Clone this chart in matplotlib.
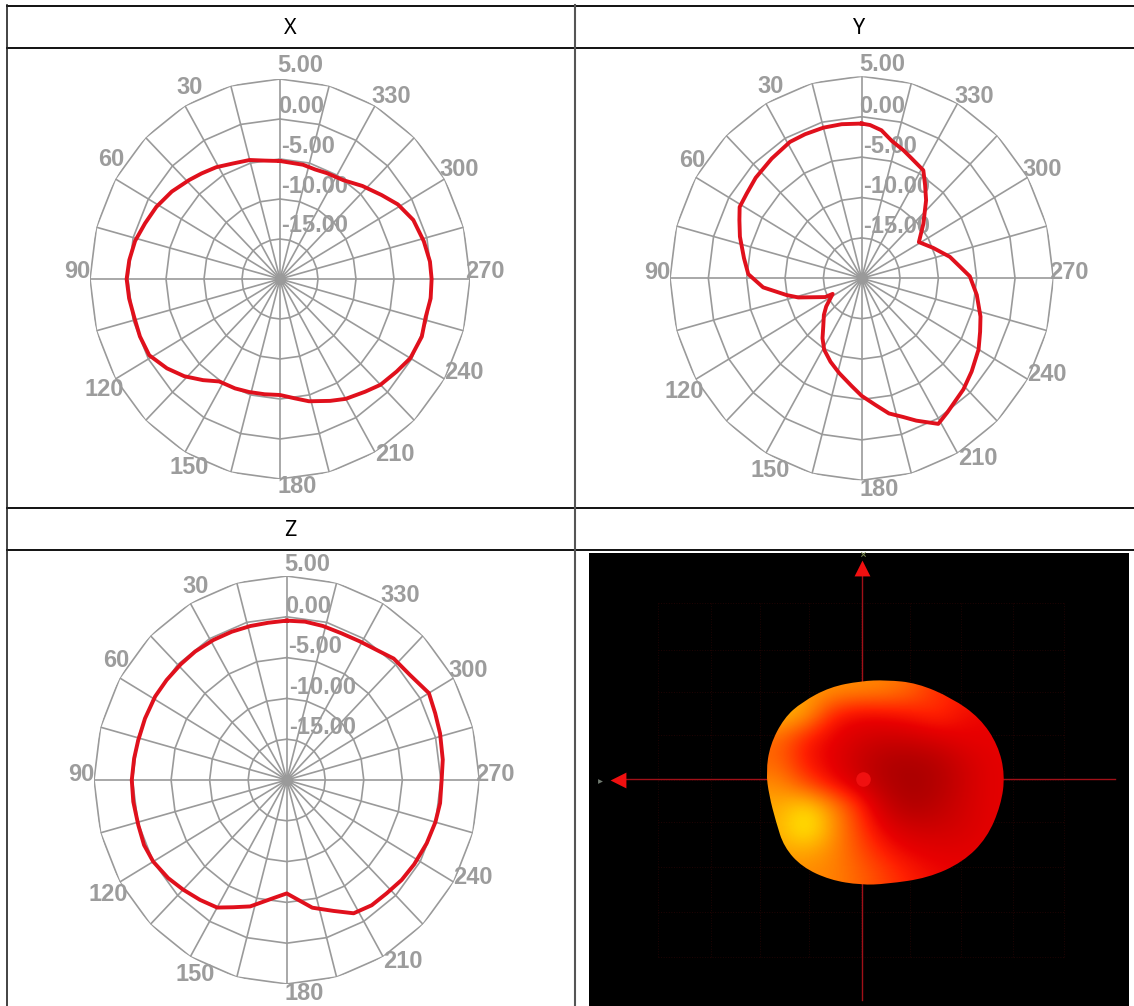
import numpy as np
import matplotlib
matplotlib.use('Agg')
import matplotlib.pyplot as plt
from matplotlib.colors import LinearSegmentedColormap
from matplotlib.patches import PathPatch
from matplotlib.path import Path

W, H = 1134, 1006

# radiation patterns: angle in degrees, gain in dB
x_angle = [0, 7.6, 15, 23, 31, 38, 44, 52.5, 61, 68.6, 76, 83.2, 90, 97, 104, 111.3, 119, 126.9, 134, 141.3, 148, 156.6, 164, 172, 180, 187.5,
           194, 203.4, 210, 218.5, 225, 233, 240, 248.9, 256, 263, 270, 276.3, 284, 292.8, 301, 308.1, 317, 326, 335, 341.4, 348, 360]
x_gain = [-5.25, -5.07, -4.6, -4.3, -3.7, -3.25, -2.8, -2.05, -1.4, -0.93, -0.35, -0.03, 0.18, 0, -0.23, -0.22, -0.33, -1.4, -2.5, -3.8, -4.9, -5.1, -5.3, -5.45, -5.5, -4.95,
          -4.25, -3.4, -2.7, -2, -1.3, -0.78, -0.2, 0, -0.25, -0.03, -0.05, -0.15, -0.5, -0.97, -1.9, -3, -4.1, -5.1, -5.4, -5.55, -5.4, -5.25]

y_angle = [0, 7.8, 15, 22.5, 29, 38.4, 48, 55, 61, 65.7, 72, 80.8, 88, 95, 102, 106, 116, 117, 127, 132.6, 140, 145.4, 151, 158.5, 166, 174.4, 180, 186.4,
           192, 197.5, 202, 209, 214, 224, 231.2, 240, 246.8, 253, 262.2, 271, 276.4, 283, 292, 301, 310, 319, 324.4, 329, 336.3, 341, 347, 352, 356.7, 360]
y_gain = [-0.85, -0.75, -0.7, -0.7, -0.7, -1.1, -1.4, -1.7, -1.8, -2.5, -3.3, -4.45, -5.2, -7.1, -10, -11.4, -14.7, -15.75, -14.2, -13.3, -12.2, -11, -9.9, -8.9, -7.9, -6.6, -5.45, -4.25,
          -2.9, -2, -1, 0.6, 0, -0.9, -1.6, -2.4, -3.2, -3.8, -4.85, -5.9, -7.1, -8.2, -9.95, -11.3, -9.5, -7.2, -5.8, -4.4, -3.8, -3.25, -2.55, -1.5, -1, -0.85]

z_angle = [0, 7, 14, 21.4, 29, 37, 44, 51.8, 59, 67.7, 76, 82.4, 90, 97.6, 106, 113.3, 120, 128, 135, 142.6, 150, 156, 163, 173, 180, 186.6,
           192, 200.7, 208, 215.7, 223, 230.6, 238, 246.9, 255, 261.9, 270, 277, 286, 293, 300, 308.8, 317, 323.8, 331, 338.4, 346, 353, 360]
z_gain = [-0.47, -0.58, -0.55, -0.48, -0.38, -0.28, -0.25, -0.18, -0.1, -0.13, -0.13, -0.03, 0.1, 0.08, 0.03, 0.15, 0, -0.48, -1, -1.5, -1.95, -2.93, -3.8, -5.4, -6.1, -5.1,
          -4, -2.85, -1.5, -1.1, -1, -0.7, -0.5, -0.25, -0.03, 0.1, 0.1, 0.4, 0.7, 0.93, 1.3, 0.53, 0.35, -0.25, -0.55, -0.67, -0.55, -0.45, -0.47]

ring_values = [5, 0, -5, -10, -15]
ring_labels = ['5.00', '0.00', '-5.00', '-10.00', '-15.00']
angle_labels = [30, 60, 90, 120, 150, 180, 210, 240, 270, 300, 330]
panel_titles = ['X', 'Y', 'Z']

# label positions relative to the plot radius
ring_label_x = [0.109, 0.109, 0.149, 0.184, 0.184]
ring_label_y = [1.067, 0.862, 0.662, 0.462, 0.265]
angle_label_x = [-0.474, -0.886, -1.067, -0.926, -0.477, 0.091, 0.605, 0.968, 1.079, 0.942, 0.588]
angle_label_y = [0.958, 0.595, 0.037, -0.552, -0.942, -1.038, -0.88, -0.468, 0.037, 0.548, 0.912]

# brightness of the 3D lobe on a coarse grid, 0 dark red .. 1 yellow
lobe_heat = [
    [0.72, 0.75, 0.72, 0.70, 0.68, 0.60, 0.45, 0.40, 0.40],
    [0.85, 0.78, 0.42, 0.33, 0.35, 0.40, 0.46, 0.35, 0.30],
    [0.62, 0.42, 0.30, 0.22, 0.18, 0.20, 0.25, 0.30, 0.30],
    [0.60, 0.38, 0.28, 0.15, 0.05, 0.03, 0.08, 0.20, 0.28],
    [0.70, 0.52, 0.34, 0.20, 0.05, 0.00, 0.05, 0.18, 0.28],
    [0.78, 0.90, 0.72, 0.45, 0.15, 0.03, 0.10, 0.20, 0.28],
    [0.80, 1.00, 0.75, 0.50, 0.28, 0.18, 0.18, 0.22, 0.28],
    [0.76, 0.78, 0.70, 0.55, 0.40, 0.30, 0.27, 0.27, 0.30],
    [0.70, 0.70, 0.68, 0.60, 0.50, 0.40, 0.33, 0.30, 0.30],
]
lobe_x = [886, 917, 952, 980, 998, 1005, 1001, 987, 963, 928, 886, 861, 830, 802, 784, 776, 769, 766, 770, 784, 802, 830, 861]
lobe_y = [680, 683, 698, 718, 745, 775, 805, 838, 862, 878, 884, 885, 880, 867, 847, 822, 795, 772, 745, 718, 702, 687, 681]
dot_grid_x = [658, 711, 760, 809, 861, 910, 961, 1013, 1064]
dot_grid_y = [603, 650, 692, 735, 780, 822, 867, 912, 957]

GRID = '#9a9a9a'
LABEL = '#9c9c9c'
CURVE = '#e0101c'

plt.rcParams['font.family'] = ['Liberation Sans', 'DejaVu Sans']

fig = plt.figure(figsize=(W / 100, H / 100), dpi=100, facecolor='white')

# whole figure axes in pixel units for the table and the 3D picture
bg = fig.add_axes([0, 0, 1, 1])
bg.set_xlim(0, W)
bg.set_ylim(H, 0)
bg.axis('off')

for yy in [5.5, 48, 507.5, 550]:
    bg.plot([6, W], [yy, yy], color='#111111', lw=1.4, solid_capstyle='butt')
bg.plot([6.5, 6.5], [5, H], color='#222222', lw=1.2)
bg.plot([574.5, 574.5], [5, H], color='#555555', lw=1.5)

for title, tx, ty in zip(panel_titles, [290, 859, 290], [28, 28, 530]):
    bg.text(tx, ty, title, fontsize=15.5, family=['Noto Sans', 'DejaVu Sans'], ha='center', va='center', color='black')

# 3D panel
bg.fill_between([589, 1129], 553, H, color='black', lw=0, zorder=1)
for gx in dot_grid_x:
    bg.plot([gx, gx], [dot_grid_y[0], dot_grid_y[-1]], color='#200404', lw=0.7, ls=':', zorder=2)
for gy in dot_grid_y:
    bg.plot([dot_grid_x[0], dot_grid_x[-1]], [gy, gy], color='#200404', lw=0.7, ls=':', zorder=2)
bg.plot([862, 862], [570, 1000], color='#a01018', lw=1, zorder=3)
bg.plot([622, 1115], [779, 779], color='#a01018', lw=1, zorder=3)
bg.scatter([862], [568], marker='^', s=130, color='#f01010', lw=0, zorder=4)
bg.scatter([618], [780], marker='<', s=130, color='#f01010', lw=0, zorder=4)
bg.scatter([863], [553.5], marker='x', s=10, color='#7a8a50', lw=0.7, zorder=4)
bg.scatter([600], [781], marker='>', s=12, color='#707a70', lw=0, zorder=4)

heat = LinearSegmentedColormap.from_list('lobe', [(0, '#a80000'), (0.3, '#e80000'), (0.42, '#ff2000'), (0.72, '#ff9000'), (1, '#ffff00')])
img = bg.imshow(lobe_heat, cmap=heat, vmin=0, vmax=1, extent=[766, 1005, 885, 680], interpolation='bicubic', aspect='auto', zorder=5)
bg.set_xlim(0, W)
bg.set_ylim(H, 0)

# smooth closed outline through the lobe points
pts = np.column_stack([lobe_x, lobe_y])
mids = (pts + np.roll(pts, -1, axis=0)) / 2
verts = [mids[-1]]
codes = [Path.MOVETO]
for i in range(len(pts)):
    verts += [pts[i], mids[i]]
    codes += [Path.CURVE3, Path.CURVE3]
outline = PathPatch(Path(verts, codes), transform=bg.transData, fc='none', ec='none')
bg.add_patch(outline)
img.set_clip_path(outline)
bg.scatter([863], [779], s=110, color='#f01010', lw=0, zorder=6)


def polar_panel(cx, cy, a, b, angles, gains, label_dy=0.0):
    ax = fig.add_axes([(cx - a) / W, 1 - (cy + b) / H, 2 * a / W, 2 * b / H], projection='polar')
    ax.set_theta_zero_location('N')
    ax.set_theta_direction(1)
    ax.patch.set_alpha(0)
    spokes = np.deg2rad(np.arange(0, 375, 15))
    for val in ring_values:
        ax.plot(spokes, [val] * len(spokes), color=GRID, lw=1.2, zorder=1)
    for th in spokes[:-1]:
        ax.plot([th, th], [-20, 5], color=GRID, lw=1.2, zorder=1)
    ax.scatter([0], [-20], s=70, color=GRID, lw=0, zorder=1)
    ax.plot(np.deg2rad(angles), gains, color=CURVE, lw=2.8, zorder=3, solid_joinstyle='round')
    ax.set_ylim(-20, 5)
    ax.set_aspect('auto')
    ax.axis('off')
    shift = label_dy / (2 * b)
    for lab, lx, ly in zip(ring_labels, ring_label_x, ring_label_y):
        ax.text(0.5 + lx / 2, 0.5 + ly / 2 - shift, lab, transform=ax.transAxes, ha='center', va='center',
                color=LABEL, fontsize=17, fontweight='bold', zorder=2)
    for lab, lx, ly in zip(angle_labels, angle_label_x, angle_label_y):
        ax.text(0.5 + lx / 2, 0.5 + ly / 2 - shift, str(lab), transform=ax.transAxes, ha='center', va='center',
                color=LABEL, fontsize=17, fontweight='bold', zorder=2)
    return ax


polar_panel(280, 279, 190, 200, x_angle, x_gain)
polar_panel(861.7, 278.3, 191.7, 202, y_angle, y_gain, label_dy=2)
polar_panel(286.7, 780, 192.7, 204, z_angle, z_gain, label_dy=2)

fig.savefig('out.png', dpi=100)
